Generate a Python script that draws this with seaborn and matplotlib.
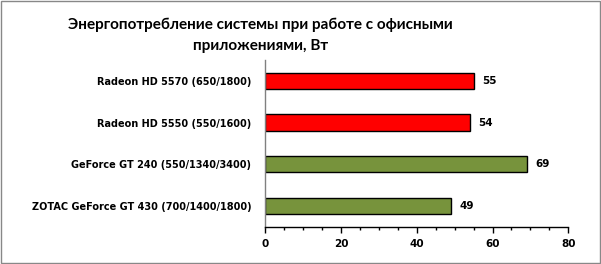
import matplotlib
matplotlib.use("Agg")
import matplotlib.pyplot as plt
import seaborn as sns
import pandas as pd
from matplotlib.patches import Rectangle
from matplotlib.ticker import MultipleLocator

categories = [
    "Radeon HD 5570 (650/1800)",
    "Radeon HD 5550 (550/1600)",
    "GeForce GT 240 (550/1340/3400)",
    "ZOTAC GeForce GT 430 (700/1400/1800)",
]
values = [55, 54, 69, 49]
colors = ["#FF0000", "#FF0000", "#77933C", "#77933C"]
title = "Энергопотребление системы при работе с офисными\nприложениями, Вт"
xticks = [0, 20, 40, 60, 80]

sns.set_style("white")
plt.rcParams['font.family'] = ['DejaVu Sans']
plt.rcParams['text.color'] = 'black'
plt.rcParams['xtick.color'] = 'black'
plt.rcParams['ytick.color'] = 'black'

df = pd.DataFrame({"cat": categories, "val": values})

fig = plt.figure(figsize=(6.01, 2.64), dpi=100)
ax = fig.add_axes([0.4414, 0.1405, 0.5042, 0.6322])

sns.barplot(data=df, x="val", y="cat", hue="cat", palette=colors, legend=False,
            saturation=1, width=0.39, edgecolor="black", linewidth=1, ax=ax,
            orient="h")

ax.set_xlim(0, 80)
ax.set_ylim(3.5, -0.5)
ax.set_xticks(xticks)
ax.xaxis.set_minor_locator(MultipleLocator(5))
ax.set_xlabel("")
ax.set_ylabel("")
for s in ["top", "right"]:
    ax.spines[s].set_visible(False)
ax.spines["left"].set_color("#808080")
ax.spines["bottom"].set_color("black")
ax.spines["left"].set_linewidth(1)
ax.spines["bottom"].set_linewidth(1)
ax.tick_params(axis="x", which="major", direction="out", length=4, width=1,
               color="black", bottom=True, labelsize=7.5, pad=5)
ax.tick_params(axis="x", which="minor", direction="out", length=2.5, width=1,
               color="black", bottom=True)
ax.tick_params(axis="y", length=0, labelsize=7, pad=10)
for lbl in ax.get_xticklabels() + ax.get_yticklabels():
    lbl.set_fontweight("bold")
    lbl.set_color("black")

for i, v in enumerate(values):
    ax.text(v + 2.2, i, str(v), va="center", ha="left", fontsize=7.5,
            fontweight="bold", color="black")

fig.text(0.434, 0.866, title, ha="center", va="center", fontsize=11,
         fontweight="bold", linespacing=1.7, color="black",
         family=["Lato", "DejaVu Sans"])

fig.patches.append(Rectangle((0.001, 0.002), 0.997, 0.995, transform=fig.transFigure,
                             fill=False, edgecolor="#888888", linewidth=1))

fig.savefig("out.png", dpi=100)
